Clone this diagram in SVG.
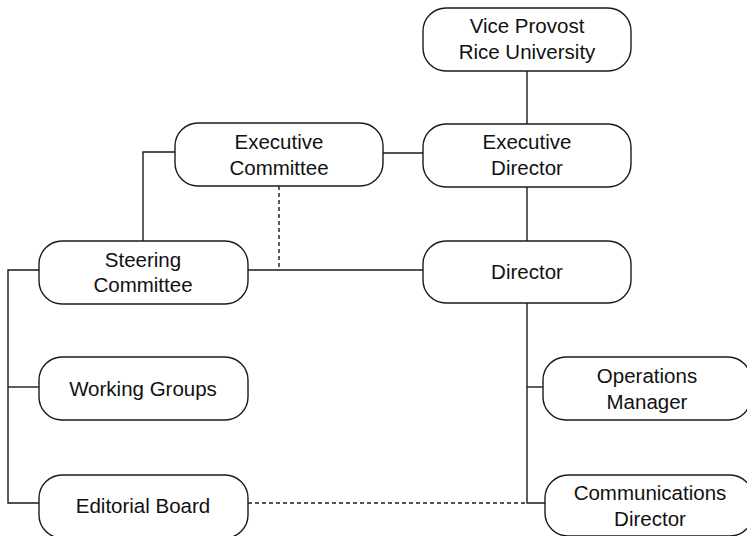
<svg xmlns="http://www.w3.org/2000/svg" width="747" height="536" viewBox="0 0 747 536">
  <style>
    .box { fill: #ffffff; stroke: #1a1a1a; stroke-width: 1.4; }
    .lbl { font-family: "Liberation Sans", Arial, Helvetica, sans-serif; font-size: 20.5px; fill: #111111; text-anchor: middle; }
    .wire { fill: none; stroke: #1a1a1a; stroke-width: 1.4; }
    .dash { fill: none; stroke: #1a1a1a; stroke-width: 1.4; stroke-dasharray: 4 3; }
  </style>
  <rect width="747" height="536" fill="#ffffff"/>

  <!-- connectors -->
  <g id="connectors">
    <line class="wire" x1="527" y1="71" x2="527" y2="124"/>
    <line class="wire" x1="527" y1="187" x2="527" y2="241"/>
    <polyline class="wire" points="527,303 527,503 545,503"/>
    <line class="wire" x1="527" y1="387" x2="543" y2="387"/>
    <line class="wire" x1="383" y1="153" x2="423" y2="153"/>
    <polyline class="wire" points="175,152 143,152 143,241"/>
    <line class="wire" x1="248" y1="270" x2="423" y2="270"/>
    <polyline class="wire" points="39,270 8,270 8,503 39,503"/>
    <line class="wire" x1="8" y1="387" x2="39" y2="387"/>
    <line class="dash" x1="279" y1="186" x2="279" y2="270"/>
    <line class="dash" x1="248" y1="503" x2="527" y2="503"/>
  </g>

  <!-- nodes -->
  <g id="vice-provost">
    <rect class="box" x="423" y="8" width="208" height="63" rx="23" ry="23"/>
    <text class="lbl" x="527" y="33">Vice Provost</text>
    <text class="lbl" x="527" y="59">Rice University</text>
  </g>
  <g id="executive-director">
    <rect class="box" x="423" y="124" width="208" height="63" rx="23" ry="23"/>
    <text class="lbl" x="527" y="149">Executive</text>
    <text class="lbl" x="527" y="175">Director</text>
  </g>
  <g id="executive-committee">
    <rect class="box" x="175" y="123" width="208" height="63" rx="23" ry="23"/>
    <text class="lbl" x="279" y="149">Executive</text>
    <text class="lbl" x="279" y="175">Committee</text>
  </g>
  <g id="director">
    <rect class="box" x="423" y="241" width="208" height="62" rx="23" ry="23"/>
    <text class="lbl" x="527" y="279">Director</text>
  </g>
  <g id="steering-committee">
    <rect class="box" x="39" y="241" width="209" height="63" rx="23" ry="23"/>
    <text class="lbl" x="143" y="267">Steering</text>
    <text class="lbl" x="143" y="292">Committee</text>
  </g>
  <g id="working-groups">
    <rect class="box" x="39" y="357" width="209" height="63" rx="23" ry="23"/>
    <text class="lbl" x="143" y="396">Working Groups</text>
  </g>
  <g id="editorial-board">
    <rect class="box" x="39" y="475" width="209" height="63" rx="23" ry="23"/>
    <text class="lbl" x="143" y="513">Editorial Board</text>
  </g>
  <g id="operations-manager">
    <rect class="box" x="543" y="357" width="208" height="63" rx="23" ry="23"/>
    <text class="lbl" x="647" y="383">Operations</text>
    <text class="lbl" x="647" y="409">Manager</text>
  </g>
  <g id="communications-director">
    <rect class="box" x="545" y="475" width="208" height="61" rx="23" ry="23"/>
    <text class="lbl" x="650" y="500">Communications</text>
    <text class="lbl" x="650" y="526">Director</text>
  </g>
</svg>
